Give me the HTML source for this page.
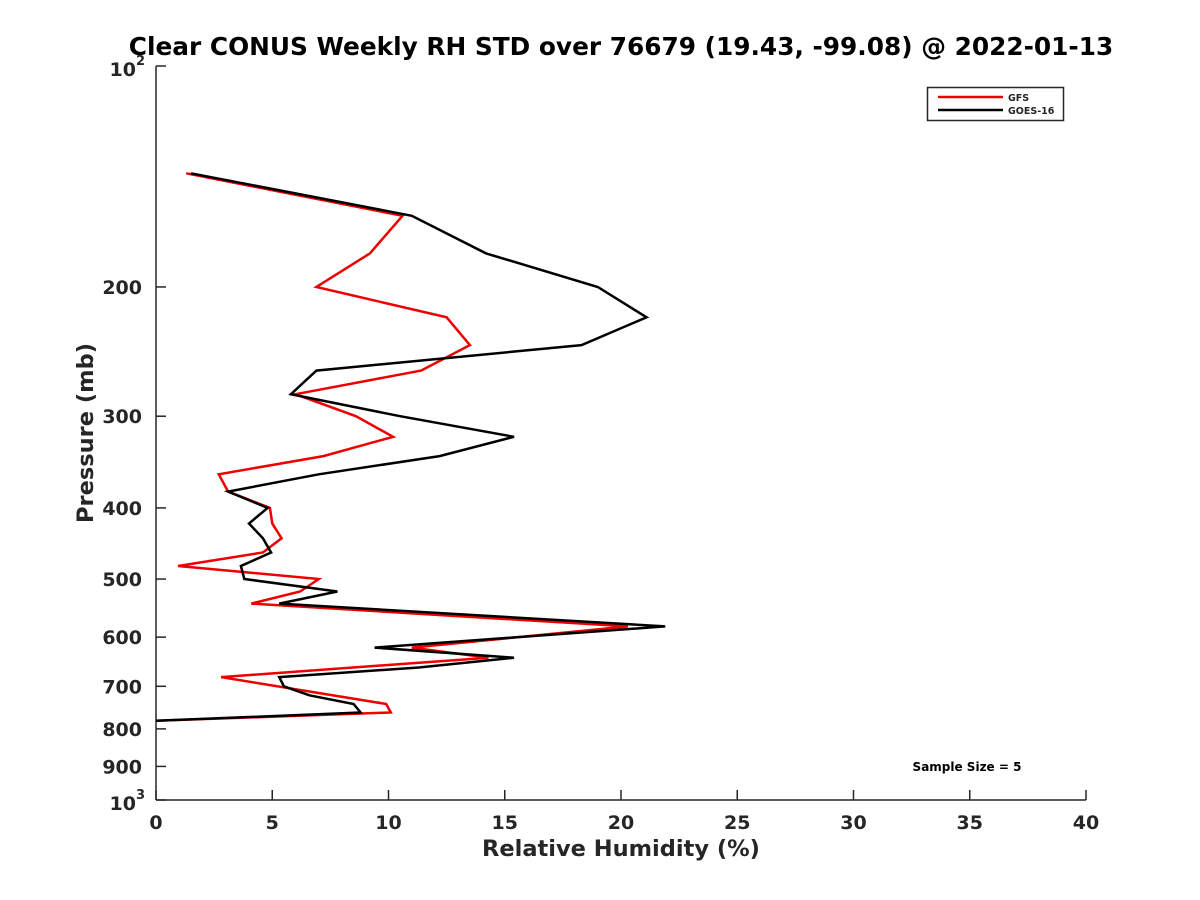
<!DOCTYPE html>
<html><head><meta charset="utf-8"><style>
html,body{margin:0;padding:0;background:#fff;}
svg{display:block;font-family:"DejaVu Sans","Liberation Sans",sans-serif;font-weight:bold;}
</style></head><body>
<svg id="chart" width="1200" height="900">
<rect width="1200" height="900" fill="#fff"/>
<text x="621" y="55" text-anchor="middle" font-size="24.8" fill="#000">Clear CONUS Weekly RH STD over 76679 (19.43, -99.08) @ 2022-01-13</text>
<g id="axes"></g>
<g id="series"></g>
<g>
<rect x="927.5" y="87.5" width="136" height="33" fill="#fff" stroke="#262626" stroke-width="1.5"/>
<line x1="938" y1="97" x2="1003" y2="97" stroke="#e00" stroke-width="2.5"/>
<text x="1008" y="101" font-size="9.5" fill="#262626">GFS</text>
<line x1="938" y1="110" x2="1003" y2="110" stroke="#000" stroke-width="2.5"/>
<text x="1008" y="114" font-size="9.5" fill="#262626">GOES-16</text>
</g>
<text x="967" y="771" text-anchor="middle" font-size="12" fill="#000">Sample Size = 5</text>
<text x="621" y="856" text-anchor="middle" font-size="22.5" fill="#262626">Relative Humidity (%)</text>
<text transform="translate(93,433) rotate(-90)" text-anchor="middle" font-size="22.5" fill="#262626">Pressure (mb)</text>
</svg>
<script>
const levels = [140,160,180,200,220,240,260,280,300,320,340,360,380,400,420,440,460,480,500,520,540,580,620,640,660,680,700,720,740,760,780];
const gfs    = [1.3,10.6,9.2,6.9,12.5,13.5,11.4,6.0,8.6,10.2,7.2,2.7,3.1,4.9,5.0,5.4,4.6,0.95,7.0,6.2,4.1,20.3,11.0,14.3,null,2.8,null,null,9.9,10.1,0];
const goes   = [1.5,11.0,14.2,19.0,21.1,18.3,6.9,5.8,10.5,15.4,12.2,7.0,3.1,4.8,4.0,4.6,4.95,3.65,3.8,7.8,5.3,21.9,9.4,15.4,11.3,5.3,5.5,6.6,8.5,8.8,0];
const xTicks = [0,5,10,15,20,25,30,35,40];
const yTicks = [200,300,400,500,600,700,800,900];
const X0=156,X1=1086,Y0=66,Y1=800,XMAX=40;
function xs(v){return X0+(v/XMAX)*(X1-X0);}
function ys(p){return Y0+(Math.log10(p)-2)*(Y1-Y0);}
const NS="http://www.w3.org/2000/svg";
const ax=document.getElementById('axes'), sg=document.getElementById('series');
function mk(tag,attrs,parent){const e=document.createElementNS(NS,tag);for(const k in attrs)e.setAttribute(k,attrs[k]);parent.appendChild(e);return e;}
let e=mk('line',{x1:X0,y1:Y0,x2:X0,y2:Y1,stroke:'#262626','stroke-width':1.5},ax);


e=mk('line',{x1:X0,y1:Y1,x2:X1,y2:Y1,stroke:'#262626','stroke-width':1.5},ax);


xTicks.forEach(t=>{
  const x=xs(t);
  let l=mk('line',{x1:x,y1:Y1,x2:x,y2:Y1-10,stroke:'#262626','stroke-width':1.5},ax);
  
  
  let tx=mk('text',{x:x,y:Y1+29,'text-anchor':'middle','font-size':19,fill:'#262626'},ax);
  tx.textContent=t;
  
  
});
[100,1000].concat(yTicks).forEach(t=>{
  const y=ys(t);
  let l=mk('line',{x1:X0,y1:y,x2:X0+10,y2:y,stroke:'#262626','stroke-width':1.5},ax);
  
  
});
yTicks.forEach(t=>{
  let tx=mk('text',{x:X0-14,y:ys(t)+7,'text-anchor':'end','font-size':19,fill:'#262626'},ax);
  tx.textContent=t;
  
  
});
[[100,'2'],[1000,'3']].forEach(([p,s])=>{
  let tx=mk('text',{x:X0-20,y:ys(p)+10,'text-anchor':'end','font-size':19,fill:'#262626'},ax);
  tx.textContent='10';
  
  
  let sp=mk('text',{x:X0-20,y:ys(p)-1,'text-anchor':'start','font-size':13,fill:'#262626'},ax);
  sp.textContent=s;
  
  
});
function draw(vals,color,name){
  const pts=[];
  vals.forEach((v,i)=>{if(v!==null)pts.push(xs(v).toFixed(1)+','+ys(levels[i]).toFixed(1));});
  const pl=mk('polyline',{points:pts.join(' '),fill:'none',stroke:color,'stroke-width':2.5,'stroke-linejoin':'miter'},sg);
  
  
}
draw(gfs,'#e00','gfs-line');
draw(goes,'#000','goes-16-line');
</script>
</body></html>
